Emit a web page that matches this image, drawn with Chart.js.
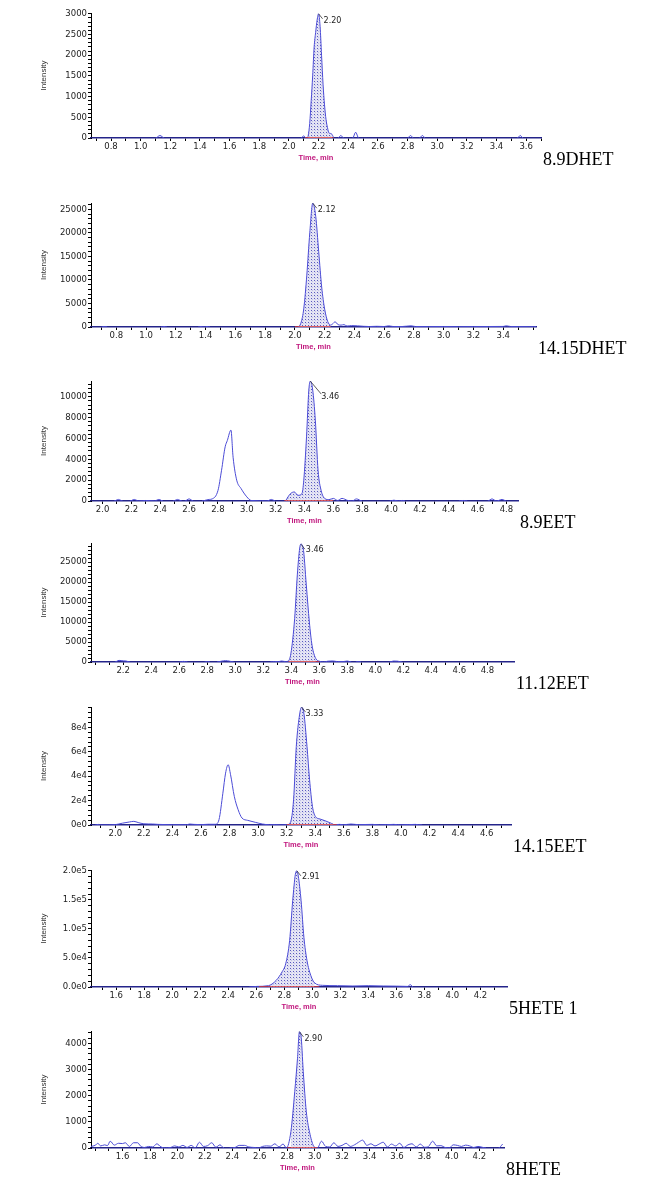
<!DOCTYPE html>
<html><head><meta charset="utf-8">
<script src="https://cdn.jsdelivr.net/npm/chart.js@4.4.0/dist/chart.umd.min.js"></script>
<style>
html,body{margin:0;padding:0;background:#fff;}
body{width:670px;height:1197px;position:relative;overflow:hidden;}
canvas{position:absolute;}
.lbl{position:absolute;font-family:"Liberation Serif","Times New Roman",serif;font-size:18px;line-height:18px;color:#000;white-space:nowrap;}
</style></head><body>
<script>
// ---------- DATA (time in min, intensity in cps) ----------
const panelNames = ['8.9DHET','14.15DHET','8.9EET','11.12EET','14.15EET','5HETE 1','8HETE'];
const peakLabels = ['2.20','2.12','3.46','3.46','3.33','2.91','2.90'];

const p1Trace = [[0.665,0],[1.10,0],[1.13,60],[1.16,0],[2.08,0],[2.10,50],[2.115,0],[2.125,0],[2.13,60],[2.14,350],[2.15,900],[2.16,1500],[2.17,2200],[2.18,2550],[2.19,2850],[2.20,3000],[2.21,2700],[2.22,2000],[2.23,1300],[2.24,800],[2.25,450],[2.26,250],[2.27,120],[2.28,110],[2.29,90],[2.305,0],[2.33,0],[2.35,60],[2.37,0],[2.43,0],[2.45,140],[2.47,0],[2.80,0],[2.82,60],[2.84,0],[2.88,0],[2.90,60],[2.92,0],[3.54,0],[3.56,60],[3.58,0],[3.70,0]];
const p2Trace = [[0.63,0],[0.70,0],[0.72,100],[0.74,0],[1.10,0],[1.12,100],[1.14,0],[1.35,0],[1.37,100],[1.39,0],[1.41,100],[1.43,0],[1.97,0],[2.02,0],[2.04,800],[2.06,4000],[2.08,11000],[2.10,20000],[2.12,26300],[2.14,23500],[2.16,16000],[2.18,8500],[2.20,3800],[2.22,1200],[2.24,400],[2.255,700],[2.27,1100],[2.29,500],[2.31,400],[2.33,500],[2.35,200],[2.38,300],[2.42,250],[2.46,150],[2.50,100],[2.55,150],[2.60,100],[2.63,250],[2.66,100],[2.72,100],[2.78,250],[2.81,100],[2.90,80],[3.00,100],[3.10,60],[3.20,80],[3.30,100],[3.40,120],[3.42,250],[3.45,100],[3.50,80],[3.62,50]];
const p3Trace = [[1.92,0],[2.08,0],[2.11,150],[2.14,0],[2.19,0],[2.22,150],[2.25,0],[2.30,50],[2.36,0],[2.39,150],[2.42,0],[2.49,0],[2.52,150],[2.55,0],[2.57,0],[2.60,200],[2.63,0],[2.69,0],[2.72,100],[2.74,150],[2.76,200],[2.80,1000],[2.825,2950],[2.85,5200],[2.865,5800],[2.89,6800],[2.905,4200],[2.93,2000],[2.96,1200],[3.00,400],[3.03,50],[3.14,0],[3.17,150],[3.20,0],[3.262,0],[3.302,700],[3.329,870],[3.355,545],[3.382,700],[3.395,1990],[3.414,6150],[3.43,10640],[3.44,11500],[3.457,10640],[3.475,7760],[3.494,2950],[3.515,1030],[3.542,224],[3.569,130],[3.60,250],[3.63,50],[3.66,250],[3.70,50],[3.73,0],[3.76,200],[3.80,0],[3.99,0],[4.02,80],[4.05,0],[4.08,50],[4.10,0],[4.47,0],[4.50,50],[4.53,0],[4.67,0],[4.70,200],[4.73,0],[4.77,150],[4.80,0],[4.88,0]];
const p4Trace = [[1.97,0],[2.14,0],[2.17,400],[2.20,300],[2.22,250],[2.25,0],[2.60,0],[2.63,150],[2.66,0],[2.78,0],[2.80,80],[2.82,0],[2.87,0],[2.90,200],[2.93,350],[2.96,200],[2.99,0],[3.25,0],[3.28,100],[3.31,100],[3.33,250],[3.36,100],[3.38,300],[3.397,2100],[3.424,10900],[3.443,21800],[3.46,28500],[3.468,29500],[3.485,28500],[3.507,19300],[3.529,10000],[3.548,4200],[3.575,840],[3.603,170],[3.63,0],[3.66,200],[3.70,250],[3.73,100],[3.77,100],[3.80,250],[3.83,0],[3.86,0],[3.88,100],[3.90,0],[4.10,0],[4.13,250],[4.16,200],[4.19,0],[4.99,0]];
const p5Trace = [[1.83,0],[1.86,0],[1.88,500],[1.90,0],[2.00,300],[2.05,1500],[2.10,2500],[2.13,3000],[2.16,2000],[2.20,1000],[2.26,800],[2.30,500],[2.40,200],[2.50,200],[2.52,800],[2.55,500],[2.60,300],[2.65,600],[2.70,600],[2.726,4400],[2.753,26000],[2.772,42500],[2.79,49400],[2.807,41200],[2.833,23500],[2.86,12500],[2.887,5700],[2.927,3800],[2.98,2200],[3.03,800],[3.08,200],[3.12,300],[3.16,0],[3.20,200],[3.226,2200],[3.248,20700],[3.267,64400],[3.285,86200],[3.304,96600],[3.32,91700],[3.342,64400],[3.36,37100],[3.38,15300],[3.40,7100],[3.433,4900],[3.468,3500],[3.508,1600],[3.535,270],[3.57,500],[3.60,200],[3.65,800],[3.70,300],[3.80,500],[3.85,100],[3.95,500],[4.00,100],[4.10,500],[4.15,0],[4.77,0]];
const p6Trace = [[1.42,0],[2.55,0],[2.604,1000],[2.687,2300],[2.742,11400],[2.783,25700],[2.81,40000],[2.838,80000],[2.86,148600],[2.879,194000],[2.89,200000],[2.90,191000],[2.92,148600],[2.94,85700],[2.962,45700],[2.989,20000],[3.017,6900],[3.072,2900],[3.18,2300],[3.29,1700],[3.40,2300],[3.51,1700],[3.60,1500],[3.68,1000],[3.70,4000],[3.72,0],[4.39,0]];
const p7Trace = [[1.37,60],[1.40,100],[1.42,180],[1.44,80],[1.47,120],[1.49,90],[1.51,260],[1.54,110],[1.57,180],[1.60,170],[1.62,200],[1.65,60],[1.68,200],[1.71,200],[1.73,80],[1.76,20],[1.79,60],[1.82,40],[1.85,160],[1.88,40],[1.91,0],[1.95,20],[1.98,80],[2.01,40],[2.04,100],[2.07,20],[2.10,100],[2.13,0],[2.16,220],[2.19,60],[2.22,90],[2.25,200],[2.28,30],[2.31,120],[2.34,0],[2.38,0],[2.42,20],[2.45,100],[2.49,100],[2.52,40],[2.56,20],[2.59,0],[2.62,60],[2.65,80],[2.68,70],[2.71,160],[2.74,40],[2.77,150],[2.794,0],[2.827,635],[2.855,2160],[2.875,3430],[2.889,4440],[2.90,4320],[2.917,2920],[2.939,1400],[2.967,510],[2.995,60],[3.02,0],[3.05,260],[3.08,60],[3.11,40],[3.14,200],[3.17,60],[3.20,100],[3.23,180],[3.26,60],[3.29,120],[3.32,220],[3.35,300],[3.38,100],[3.41,160],[3.44,80],[3.47,150],[3.50,220],[3.53,40],[3.56,150],[3.59,80],[3.62,180],[3.65,20],[3.68,120],[3.71,160],[3.74,40],[3.77,150],[3.80,30],[3.83,60],[3.86,260],[3.89,80],[3.92,90],[3.95,20],[3.98,0],[4.01,120],[4.04,100],[4.07,60],[4.10,110],[4.13,80],[4.16,20],[4.19,60],[4.22,30],[4.25,0],[4.30,0],[4.34,0],[4.37,150]];

// integration windows (min)
const p1Integration = [2.11, 2.30];
const p2Integration = [2.00, 2.24];
const p3Integration = [3.26, 3.60];
const p4Integration = [3.38, 3.60];
const p5Integration = [3.20, 3.55];
const p6Integration = [2.62, 3.05];
const p7Integration = [2.80, 3.02];

// axis ranges
const p1TimeRange = [0.665, 3.70]; const p1IntensityMax = 3020;
const p2TimeRange = [0.63, 3.62];  const p2IntensityMax = 26340;
const p3TimeRange = [1.92, 4.88];  const p3IntensityMax = 11510;
const p4TimeRange = [1.97, 4.99];  const p4IntensityMax = 29780;
const p5TimeRange = [1.83, 4.77];  const p5IntensityMax = 96700;
const p6TimeRange = [1.42, 4.39];  const p6IntensityMax = 201500;
const p7TimeRange = [1.37, 4.38];  const p7IntensityMax = 4470;

// tick labels
const p1XLabels = ['0.8','1.0','1.2','1.4','1.6','1.8','2.0','2.2','2.4','2.6','2.8','3.0','3.2','3.4','3.6'];
const p2XLabels = ['0.8','1.0','1.2','1.4','1.6','1.8','2.0','2.2','2.4','2.6','2.8','3.0','3.2','3.4'];
const p3XLabels = ['2.0','2.2','2.4','2.6','2.8','3.0','3.2','3.4','3.6','3.8','4.0','4.2','4.4','4.6','4.8'];
const p4XLabels = ['2.2','2.4','2.6','2.8','3.0','3.2','3.4','3.6','3.8','4.0','4.2','4.4','4.6','4.8'];
const p5XLabels = ['2.0','2.2','2.4','2.6','2.8','3.0','3.2','3.4','3.6','3.8','4.0','4.2','4.4','4.6'];
const p6XLabels = ['1.6','1.8','2.0','2.2','2.4','2.6','2.8','3.0','3.2','3.4','3.6','3.8','4.0','4.2'];
const p7XLabels = ['1.6','1.8','2.0','2.2','2.4','2.6','2.8','3.0','3.2','3.4','3.6','3.8','4.0','4.2'];
const p1YLabels = ['0','500','1000','1500','2000','2500','3000'];
const p2YLabels = ['0','5000','10000','15000','20000','25000'];
const p3YLabels = ['0','2000','4000','6000','8000','10000'];
const p4YLabels = ['0','5000','10000','15000','20000','25000'];
const p5YLabels = ['0e0','2e4','4e4','6e4','8e4'];
const p6YLabels = ['0.0e0','5.0e4','1.0e5','1.5e5','2.0e5'];
const p7YLabels = ['0','1000','2000','3000','4000'];

const panels = [
  {trace:p1Trace, integ:p1Integration, xr:p1TimeRange, ymax:p1IntensityMax, xl:p1XLabels, yl:p1YLabels},
  {trace:p2Trace, integ:p2Integration, xr:p2TimeRange, ymax:p2IntensityMax, xl:p2XLabels, yl:p2YLabels},
  {trace:p3Trace, integ:p3Integration, xr:p3TimeRange, ymax:p3IntensityMax, xl:p3XLabels, yl:p3YLabels},
  {trace:p4Trace, integ:p4Integration, xr:p4TimeRange, ymax:p4IntensityMax, xl:p4XLabels, yl:p4YLabels},
  {trace:p5Trace, integ:p5Integration, xr:p5TimeRange, ymax:p5IntensityMax, xl:p5XLabels, yl:p5YLabels},
  {trace:p6Trace, integ:p6Integration, xr:p6TimeRange, ymax:p6IntensityMax, xl:p6XLabels, yl:p6YLabels},
  {trace:p7Trace, integ:p7Integration, xr:p7TimeRange, ymax:p7IntensityMax, xl:p7XLabels, yl:p7YLabels},
];

// ---------- LAYOUT / STYLE ----------
const layout = [
  {left:91, top:13,   right:541, bottom:138,  lead:[4,5],  txt:[5,3]},
  {left:91, top:203,  right:536, bottom:327,  lead:[4,5],  txt:[5,3]},
  {left:91, top:381,  right:518, bottom:501,  lead:[11,13],txt:[11,12]},
  {left:91, top:543,  right:514, bottom:662,  lead:[4,5],  txt:[5,2]},
  {left:91, top:707,  right:511, bottom:825,  lead:[4,5],  txt:[4,3]},
  {left:91, top:870,  right:507, bottom:987,  lead:[4,5],  txt:[5,2]},
  {left:91, top:1031, right:504, bottom:1148, lead:[4,5],  txt:[5,3]},
];
const CANVAS_LEFT = 34, PAD_TOP = 8, PAD_RIGHT = 26, XAXIS_H = 26;
const TRACE_COLOR = '#4b4bd6', BASE_COLOR = '#24248a', RED = '#d83030';
const SMALL_FONT = '"DejaVu Sans", Verdana, sans-serif';

function makePattern(){
  const c = document.createElement('canvas'); c.width = 3; c.height = 3;
  const g = c.getContext('2d');
  g.fillStyle = '#e4e4f4'; g.fillRect(0,0,3,3);
  g.fillStyle = '#c4c4e6'; g.fillRect(2,2,1,1);
  g.fillStyle = '#5a5abf'; g.fillRect(1,1,1,1);
  return document.createElement('canvas').getContext('2d').createPattern(c,'repeat');
}
const pattern = makePattern();

const peakLabelPlugin = {
  id:'peakLabel',
  afterDatasetsDraw(chart, args, opts){
    const {ctx, scales:{x, y}} = chart;
    const data = chart.data.datasets[0].data;
    const apex = data.reduce((a,b)=> b.y > a.y ? b : a);
    const px = x.getPixelForValue(apex.x), py = y.getPixelForValue(apex.y);
    ctx.save();
    ctx.strokeStyle = '#333'; ctx.lineWidth = 0.8;
    ctx.beginPath(); ctx.moveTo(px, py); ctx.lineTo(px + opts.lead[0], py + opts.lead[1]); ctx.stroke();
    ctx.fillStyle = '#222'; ctx.font = '8px ' + SMALL_FONT;
    ctx.textBaseline = 'top'; ctx.textAlign = 'left';
    ctx.fillText(opts.text, px + opts.txt[0], py + opts.txt[1]);
    ctx.restore();
  }
};

const tickFont = {family:SMALL_FONT, size:8.5};

function stepTicks(lo, hi, step){
  const out = [];
  const k0 = Math.ceil(lo / step - 1e-9), k1 = Math.floor(hi / step + 1e-9);
  for (let k = k0; k <= k1; k++) out.push({value: Math.round(k * step * 1e6) / 1e6});
  return out;
}

panels.forEach((p, i) => {
  const L = layout[i];
  const w = L.right - CANVAS_LEFT + PAD_RIGHT;
  const h = (L.bottom - L.top) + PAD_TOP + XAXIS_H;
  const canvas = document.createElement('canvas');
  canvas.width = w; canvas.height = h;
  canvas.style.left = CANVAS_LEFT + 'px'; canvas.style.top = (L.top - PAD_TOP) + 'px';
  canvas.style.width = w + 'px'; canvas.style.height = h + 'px';
  document.body.appendChild(canvas);

  const trace = p.trace.map(([t, v]) => ({x:t, y:v}));
  const area = trace.filter(pt => pt.x >= p.integ[0] && pt.x <= p.integ[1]);
  const base = [{x:p.integ[0], y:0}, {x:p.integ[1], y:0}];

  const xVals = p.xl.map(Number);
  const yVals = p.yl.map(Number);
  const xStep = (xVals[1] - xVals[0]) / 2;
  const yStep = (yVals[1] - yVals[0]) / 5;
  const labelFor = (vals, strs, v, tol) => { const k = vals.findIndex(t => Math.abs(t - v) < tol); return k >= 0 ? strs[k] : ''; };

  new Chart(canvas, {
    type:'line',
    data:{datasets:[
      {data:trace, borderColor:TRACE_COLOR, borderWidth:1, pointRadius:0, fill:false,
       cubicInterpolationMode:'monotone', order:1,
       segment:{borderColor: c => (c.p0.parsed.y === 0 && c.p1.parsed.y === 0) ? BASE_COLOR : undefined,
                borderWidth: c => (c.p0.parsed.y === 0 && c.p1.parsed.y === 0) ? 1.5 : undefined}},
      {data:area, borderWidth:0, borderColor:'rgba(0,0,0,0)', backgroundColor:pattern, pointRadius:0,
       fill:'origin', cubicInterpolationMode:'monotone', order:2},
      {data:base, borderColor:RED, borderWidth:1.5, pointRadius:0, fill:false, order:0},
    ]},
    options:{
      responsive:false, animation:false, devicePixelRatio:1,
      layout:{padding:{top:PAD_TOP, right:PAD_RIGHT, left:0, bottom:0}},
      plugins:{legend:{display:false}, tooltip:{enabled:false},
        peakLabel:{text:peakLabels[i], lead:L.lead, txt:L.txt}},
      scales:{
        x:{type:'linear', min:p.xr[0], max:p.xr[1],
          grid:{drawOnChartArea:false, drawTicks:true, tickLength:3, color:'#000', tickColor:'#000'},
          border:{display:true, color:BASE_COLOR, width:1.5},
          ticks:{autoSkip:false, maxRotation:0, minRotation:0, padding:1, color:'#222', font:tickFont},
          afterBuildTicks:(s) => { s.ticks = stepTicks(p.xr[0], p.xr[1], xStep); },
          afterTickToLabelConversion:(s) => { s.ticks.forEach(t => { t.label = labelFor(xVals, p.xl, t.value, 1e-6); }); },
          title:{display:true, text:'Time, min', color:'#c0147c',
            font:{family:'"Liberation Sans", Arial, sans-serif', size:7.5, weight:'bold'}, padding:{top:0, bottom:1.5}},
          afterFit:(s) => { s.height = XAXIS_H; }
        },
        y:{type:'linear', min:0, max:p.ymax,
          grid:{drawOnChartArea:false, drawTicks:true, tickLength:3, color:'#000', tickColor:'#000'},
          border:{display:true, color:'#000', width:1},
          ticks:{autoSkip:false, padding:1, color:'#222', font:tickFont},
          afterBuildTicks:(s) => { s.ticks = stepTicks(0, p.ymax, yStep); },
          afterTickToLabelConversion:(s) => { s.ticks.forEach(t => { t.label = labelFor(yVals, p.yl, t.value, yStep / 100); }); },
          title:{display:true, text:'Intensity', color:'#333',
            font:{family:'"Liberation Sans", Arial, sans-serif', size:8}, padding:{top:5, bottom:0}},
          afterFit:(s) => { s.width = L.left - CANVAS_LEFT; }
        }
      }
    },
    plugins:[peakLabelPlugin]
  });

  const lbl = document.createElement('div');
  lbl.className = 'lbl';
  lbl.textContent = panelNames[i];
  lbl.style.left = (L.right + 2) + 'px';
  lbl.style.top = (L.bottom + 12) + 'px';
  document.body.appendChild(lbl);
});
</script>
</body></html>
